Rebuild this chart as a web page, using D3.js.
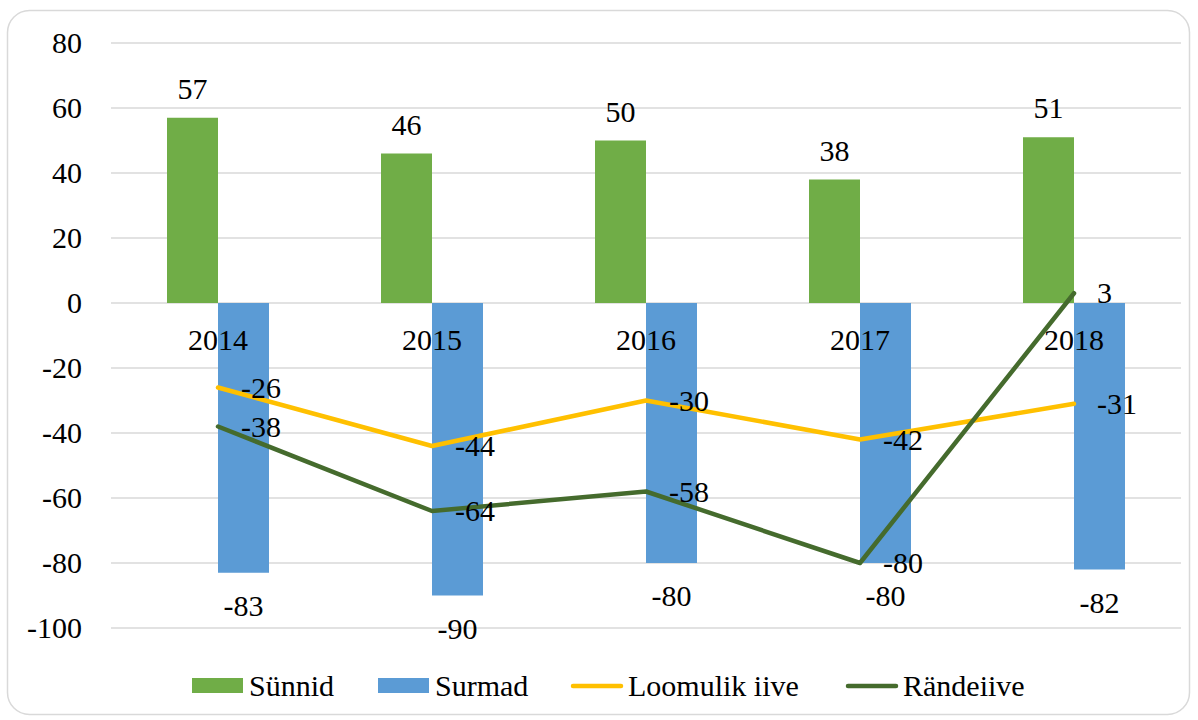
<!DOCTYPE html>
<html>
<head>
<meta charset="utf-8">
<script src="https://cdn.jsdelivr.net/npm/d3@7"></script>
</head>
<body style="margin:0">
<script>
// Data
var years = ['2014', '2015', '2016', '2017', '2018']
var sunnid = [57, 46, 50, 38, 51]
var surmad = [-83, -90, -80, -80, -82]
var loomulik = [-26, -44, -30, -42, -31]
var randeiive = [-38, -64, -58, -80, 3]
var yTicks = [80, 60, 40, 20, 0, -20, -40, -60, -80, -100]
var seriesNames = ['Sünnid', 'Surmad', 'Loomulik iive', 'Rändeiive']

var width = 1198
var height = 720
var margin = { top: 43, right: 17, bottom: 92, left: 111 }
var fontSize = 30

var colors = {
  sunnid: '#70ad47',
  surmad: '#5b9bd5',
  loomulik: '#ffc000',
  randeiive: '#456b2d'
}

function txt(sel) {
  sel.attr('font-family', 'Liberation Serif')
    .attr('font-size', fontSize)
}

var svg = d3.select('body').append('svg')
  .attr('width', width)
  .attr('height', height)

// Outer frame
svg.append('rect')
  .attr('x', 7.5)
  .attr('y', 10.5)
  .attr('width', 1182)
  .attr('height', 704)
  .attr('rx', 22)
  .attr('fill', '#fff')
  .attr('stroke', '#d9d9d9')
  .attr('stroke-width', 1.5)

var x = d3.scaleBand()
  .domain(years)
  .range([margin.left, width - margin.right])

var y = d3.scaleLinear()
  .domain([-100, 80])
  .range([height - margin.bottom, margin.top])

var barW = 51

// Gridlines
svg.append('g').selectAll('line')
  .data(yTicks)
  .enter().append('line')
  .attr('x1', margin.left)
  .attr('x2', width - margin.right)
  .attr('y1', function (d) { return y(d) })
  .attr('y2', function (d) { return y(d) })
  .attr('stroke', '#d9d9d9')
  .attr('stroke-width', 1.5)

// Y tick labels
svg.append('g').selectAll('text')
  .data(yTicks)
  .enter().append('text')
  .attr('x', 82)
  .attr('y', function (d) { return y(d) + 10 })
  .attr('text-anchor', 'end')
  .call(txt)
  .text(function (d) { return d })

function cx(i) { return x(years[i]) + x.bandwidth() / 2 }

// Bars
var gBars = svg.append('g')
gBars.selectAll('rect.sunnid')
  .data(sunnid)
  .enter().append('rect')
  .attr('class', 'sunnid')
  .attr('x', function (d, i) { return cx(i) - barW })
  .attr('width', barW)
  .attr('y', function (d) { return y(Math.max(0, d)) })
  .attr('height', function (d) { return Math.abs(y(d) - y(0)) })
  .attr('fill', colors.sunnid)

gBars.selectAll('rect.surmad')
  .data(surmad)
  .enter().append('rect')
  .attr('class', 'surmad')
  .attr('x', function (d, i) { return cx(i) })
  .attr('width', barW)
  .attr('y', function (d) { return y(Math.max(0, d)) })
  .attr('height', function (d) { return Math.abs(y(d) - y(0)) })
  .attr('fill', colors.surmad)

// Category labels
svg.append('g').selectAll('text')
  .data(years)
  .enter().append('text')
  .attr('x', function (d, i) { return cx(i) })
  .attr('y', y(0) + 47)
  .attr('text-anchor', 'middle')
  .call(txt)
  .text(function (d) { return d })

// Lines
var line = d3.line()
  .x(function (d, i) { return cx(i) })
  .y(function (d) { return y(d) })

svg.append('path')
  .datum(loomulik)
  .attr('d', line)
  .attr('fill', 'none')
  .attr('stroke', colors.loomulik)
  .attr('stroke-width', 4.5)
  .attr('stroke-linejoin', 'round')
  .attr('stroke-linecap', 'round')

svg.append('path')
  .datum(randeiive)
  .attr('d', line)
  .attr('fill', 'none')
  .attr('stroke', colors.randeiive)
  .attr('stroke-width', 4.5)
  .attr('stroke-linejoin', 'round')
  .attr('stroke-linecap', 'round')

// Bar value labels
var gLabels = svg.append('g')

gLabels.selectAll('text.l-sunnid')
  .data(sunnid)
  .enter().append('text')
  .attr('x', function (d, i) { return cx(i) - barW / 2 })
  .attr('y', function (d) { return y(d) - 19 })
  .attr('text-anchor', 'middle')
  .call(txt)
  .text(function (d) { return d })

gLabels.selectAll('text.l-surmad')
  .data(surmad)
  .enter().append('text')
  .attr('x', function (d, i) { return cx(i) + barW / 2 })
  .attr('y', function (d) { return y(d) + 43 })
  .attr('text-anchor', 'middle')
  .call(txt)
  .text(function (d) { return d })

// Line value labels (to the right of points)
;[loomulik, randeiive].forEach(function (series) {
  gLabels.selectAll(null)
    .data(series)
    .enter().append('text')
    .attr('x', function (d, i) { return cx(i) + 23 })
    .attr('y', function (d) { return y(d) + 10 })
    .call(txt)
    .text(function (d) { return d })
})

// Legend (item positions)
var legendColors = [colors.sunnid, colors.surmad, colors.loomulik, colors.randeiive]
var legendX = [192, 378, 571, 846]
var legendY = 686
var gLegend = svg.append('g')

seriesNames.forEach(function (name, i) {
  var lx = legendX[i]
  if (i < 2) {
    gLegend.append('rect')
      .attr('x', lx)
      .attr('y', legendY - 8)
      .attr('width', 51)
      .attr('height', 15)
      .attr('fill', legendColors[i])
  } else {
    gLegend.append('line')
      .attr('x1', lx + 2)
      .attr('x2', lx + 50)
      .attr('y1', legendY)
      .attr('y2', legendY)
      .attr('stroke', legendColors[i])
      .attr('stroke-width', 4.5)
      .attr('stroke-linecap', 'round')
  }
  gLegend.append('text')
    .attr('x', lx + 57)
    .attr('y', legendY + 10)
    .call(txt)
    .text(name)
})
</script>
</body>
</html>
